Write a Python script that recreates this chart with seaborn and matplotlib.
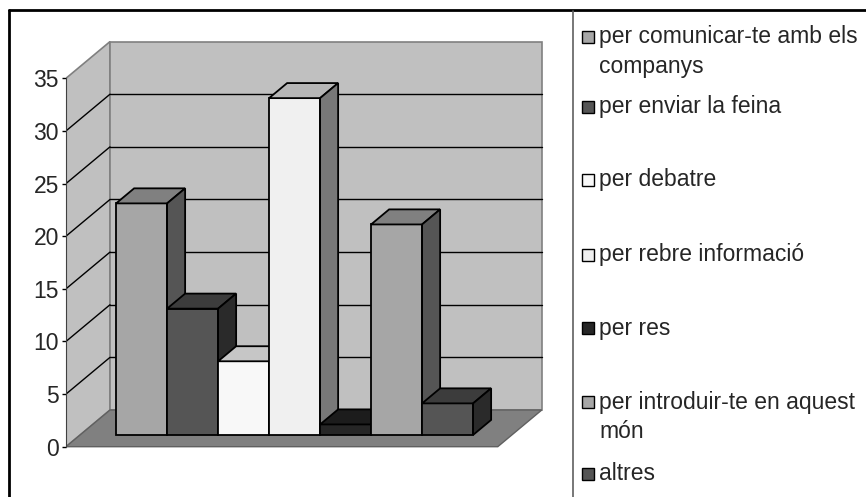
import matplotlib.pyplot as plt
import seaborn as sns
import pandas as pd
from matplotlib.patches import Polygon, Rectangle
from matplotlib.lines import Line2D

# data
categories = ["per comunicar-te amb els\ncompanys", "per enviar la feina", "per debatre",
              "per rebre informació", "per res", "per introduir-te en aquest\nmón", "altres"]
values = [22, 12, 7, 32, 1, 20, 3]
front_colors = ['#A6A6A6', '#555555', '#F8F8F8', '#F0F0F0', '#262626', '#A6A6A6', '#555555']
top_colors = ['#808080', '#3C3C3C', '#C6C6C6', '#B6B6B6', '#1C1C1C', '#808080', '#3C3C3C']
side_colors = ['#555555', '#2A2A2A', '#A0A0A0', '#787878', '#1A1A1A', '#555555', '#2A2A2A']
y_ticks = [0, 5, 10, 15, 20, 25, 30, 35]

df = pd.DataFrame({'motiu': categories, 'n': values})

sns.set_style('white')
plt.rcParams['font.family'] = ['Liberation Sans', 'DejaVu Sans']

W, H = 866, 497
fig = plt.figure(figsize=(W / 100, H / 100), dpi=100)

# pixel geometry of the fake 3d box
px_x, px_y = 51.0, 10.526          # px per category / per unit
ax_l, ax_r, ax_t, ax_b = 66, 570, 20, 490
y0_px = 446.7                      # front floor edge
ax = fig.add_axes([ax_l / W, (H - ax_b) / H, (ax_r - ax_l) / W, (ax_b - ax_t) / H])

xf, xr = -1.206, 7.26              # floor front edge (data x)
DX, DY = 44 / px_x, 36.7 / px_y    # full depth offset
t0, t1 = 0.32, 0.73                # bar front / back depth
ymax = 35

sns.barplot(data=df, x='motiu', y='n', hue='motiu', palette=front_colors, saturation=1,
            width=1, edgecolor='black', linewidth=1.3, legend=False, ax=ax)

# walls and floor
wall_kw = dict(edgecolor='#808080', linewidth=1.2, zorder=0.5)
ax.add_patch(Polygon([(xf, 0), (xf + DX, DY), (xf + DX, ymax + DY), (xf, ymax)],
                     facecolor='#C0C0C0', **wall_kw))
ax.add_patch(Rectangle((xf + DX, DY), xr - xf, ymax, facecolor='#C0C0C0', **wall_kw))
ax.add_patch(Polygon([(xf, 0), (xr, 0), (xr + DX, DY), (xf + DX, DY)],
                     facecolor='#808080', edgecolor='#606060', linewidth=1, zorder=0.6))
for v in y_ticks[1:-1]:
    ax.plot([xf, xf + DX], [v, v + DY], color='black', lw=1, zorder=0.7)
    ax.plot([xf + DX, xr + DX], [v + DY, v + DY], color='black', lw=1, zorder=0.7)

# push bars back and add top / side faces
bars = sorted(ax.patches[:len(values)], key=lambda p: p.get_x())
bx, by = (t1 - t0) * DX, (t1 - t0) * DY
for i, p in enumerate(bars):
    p.set_x(p.get_x() + t0 * DX)
    p.set_y(t0 * DY)
    p.set_zorder(3 + i)
    a, b = p.get_x(), p.get_x() + p.get_width()
    lo, hi = p.get_y(), p.get_y() + p.get_height()
    face_kw = dict(edgecolor='black', linewidth=1.3, zorder=3 + i)
    ax.add_patch(Polygon([(a, hi), (b, hi), (b + bx, hi + by), (a + bx, hi + by)],
                         facecolor=top_colors[i], **face_kw))
    ax.add_patch(Polygon([(b, lo), (b + bx, lo + by), (b + bx, hi + by), (b, hi)],
                         facecolor=side_colors[i], **face_kw))

ax.set_xlim(xf, xf + (ax_r - ax_l) / px_x)
ax.set_ylim(-(ax_b - y0_px) / px_y, (y0_px - ax_t) / px_y)
ax.set_xticks([])
ax.set_yticks(y_ticks)
ax.set_xlabel('')
ax.set_ylabel('')
ax.patch.set_visible(False)
sns.despine(ax=ax, left=False, bottom=True)
ax.spines['left'].set_bounds(0, ymax)
ax.spines['left'].set_color('#404040')
ax.tick_params(axis='y', left=True, length=3, width=1, color='black', labelsize=16.5, pad=2)

# chart frame
fig.add_artist(Line2D([8.5 / W, 1], [1 - 9.5 / H] * 2, transform=fig.transFigure, color='black', lw=2))
fig.add_artist(Line2D([8.5 / W] * 2, [0, 1 - 9.5 / H], transform=fig.transFigure, color='black', lw=2))
fig.add_artist(Line2D([572.5 / W] * 2, [0, 1 - 10.5 / H], transform=fig.transFigure, color='#606060', lw=1.2))

# legend, laid out like the Excel one
legend_y = [37, 107, 180, 255, 328, 402, 474]
for lab, col, y in zip(categories, front_colors, legend_y):
    fig.add_artist(Rectangle((582 / W, 1 - (y + 6) / H), 12 / W, 12 / H, transform=fig.transFigure,
                             facecolor=col, edgecolor='black', lw=1))
    for k, line in enumerate(lab.split('\n')):
        fig.text(599 / W, 1 - (y + 29 * k) / H, line, fontsize=16.5, va='center', ha='left')

fig.savefig('out.png', dpi=100)
